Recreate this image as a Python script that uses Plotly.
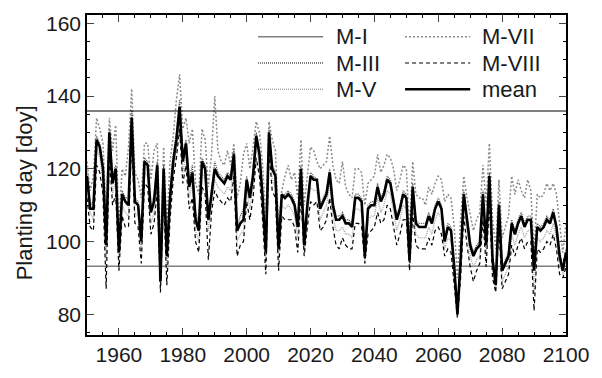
import plotly.graph_objects as go

years = list(range(1950, 2101))

mean_vals = [
    118,109,109,128,126,120,99,130,116,120,
    97,113,111,110,134,111,110,100,122,121,
    108,111,121,89,120,96,112,122,128,137,
    122,127,115,119,106,103,122,120,106,113,
    120,118,117,116,118,117,124,103,105,106,
    117,112,118,129,124,112,97,130,120,118,
    98,113,112,113,112,110,104,120,99,110,
    118,117,117,109,111,113,119,110,106,106,
    107,105,105,104,112,112,111,96,109,110,
    110,115,111,113,117,116,111,106,109,113,
    112,95,115,105,104,104,104,107,105,109,
    111,109,100,104,103,93,80,95,113,106,
    99,96,98,99,113,99,118,95,88,110,
    92,94,96,105,102,105,107,104,106,106,
    92,104,103,104,106,105,108,104,96,92,
    97]

m7_vals = [
    122,114,118,134,131,127,108,134,125,132,
    104,120,118,126,142,119,117,112,127,127,
    117,125,127,97,126,104,122,129,139,146,
    131,134,127,131,116,113,131,128,115,124,
    140,125,122,121,125,121,127,112,116,124,
    127,120,126,133,130,121,106,133,128,125,
    104,114,118,121,117,119,112,128,110,119,
    126,125,122,120,121,122,129,121,117,116,
    122,115,113,112,120,120,119,110,116,117,
    118,124,119,121,124,123,120,114,117,121,
    120,103,122,113,112,112,110,115,113,116,
    118,117,111,113,112,104,90,106,118,112,
    107,103,106,108,121,110,127,106,98,117,
    101,104,107,118,113,117,114,112,117,114,
    97,113,112,113,116,114,116,113,104,97,
    105]

m8_vals = [
    112,104,103,121,119,113,87,124,110,113,
    92,107,104,104,128,105,104,94,116,115,
    102,105,114,86,112,88,106,117,123,131,
    116,121,109,112,100,97,115,113,95,108,
    114,112,111,110,112,111,118,96,99,100,
    111,106,112,123,118,106,91,125,114,112,
    92,107,106,106,106,104,97,113,96,104,
    111,110,111,103,104,106,112,104,99,98,
    101,99,98,98,105,105,104,94,102,103,
    104,108,105,106,110,109,104,99,102,106,
    106,92,108,99,98,98,98,101,99,103,
    104,102,96,98,97,88,79,90,107,99,
    93,89,92,94,106,93,111,90,86,104,
    87,89,91,99,96,99,101,98,100,100,
    81,98,97,98,100,99,102,98,91,90,
    93]

m3_vals = [
    119,110,111,129,127,121,100,131,118,121,
    98,114,112,112,136,112,111,102,123,122,
    109,113,122,91,121,97,114,124,130,139,
    124,128,117,121,108,105,123,121,107,115,
    122,119,118,117,119,118,125,104,107,109,
    118,113,120,130,125,114,99,131,121,119,
    100,112,113,114,113,111,105,121,101,111,
    119,118,117,110,112,114,120,111,107,107,
    108,106,106,105,113,113,112,98,110,111,
    111,116,112,114,118,117,112,107,110,114,
    113,97,116,106,105,105,105,108,106,110,
    112,110,101,105,104,94,82,96,114,107,
    100,97,99,100,114,100,119,96,90,111,
    93,95,97,106,103,106,108,105,107,107,
    93,105,104,105,107,106,109,105,97,93,
    98]

m5_vals = [
    115,108,106,126,123,117,95,128,113,117,
    94,110,108,107,131,108,107,97,119,118,
    105,108,118,88,117,92,109,119,125,134,
    119,124,112,116,103,100,119,117,103,110,
    117,115,114,113,115,114,121,100,102,103,
    114,109,115,126,121,109,95,127,117,115,
    95,110,109,110,109,107,101,117,97,107,
    115,114,114,106,108,110,116,107,103,103,
    104,102,102,101,109,109,108,94,106,107,
    107,112,108,110,114,113,108,103,106,110,
    109,93,112,102,101,101,101,104,102,106,
    108,106,98,101,100,91,80,93,110,103,
    96,93,95,96,110,96,115,92,87,107,
    89,91,93,102,99,102,104,101,103,103,
    86,101,100,101,103,102,105,101,94,91,
    95]

m1_value = 93.2
upper_limit = 135.9

x_ticks = [1960, 1980, 2000, 2020, 2040, 2060, 2080, 2100]
y_ticks = [80, 100, 120, 140, 160]
y_title = "Planting day [doy]"

FONT = "Liberation Sans, Arial, sans-serif"

styles = {
    "M-I":    dict(color="#7f7f7f", width=1.3),
    "M-III":  dict(color="#555555", width=1.3, dash="1px,1px"),
    "M-V":    dict(color="#a5a5a5", width=1.3, dash="1px,1px"),
    "M-VII":  dict(color="#8a8a8a", width=1.5, dash="2px,2px"),
    "M-VIII": dict(color="#000000", width=1.2, dash="4px,3px"),
    "mean":   dict(color="#000000", width=2.6),
}

series = [
    ("M-I", [m1_value] * len(years)),
    ("M-VII", m7_vals),
    ("M-V", m5_vals),
    ("M-III", m3_vals),
    ("M-VIII", m8_vals),
    ("mean", mean_vals),
]

fig = go.Figure()
for name, vals in series:
    fig.add_trace(go.Scatter(x=years, y=vals, mode="lines", name=name,
                             line=styles[name], showlegend=False))

fig.add_hline(y=upper_limit, line=dict(color="#000000", width=1.2))

# legend drawn in two columns (paper coordinates)
legend_layout = [
    ("M-I", 0, 0), ("M-III", 0, 1), ("M-V", 0, 2),
    ("M-VII", 1, 0), ("M-VIII", 1, 1), ("mean", 1, 2),
]
col_line_x = [(0.357, 0.493), (0.664, 0.800)]
col_text_x = [0.516, 0.820]
row_y = [0.932, 0.850, 0.768]
for name, c, r in legend_layout:
    x0, x1 = col_line_x[c]
    fig.add_shape(type="line", xref="paper", yref="paper", x0=x0, x1=x1,
                  y0=row_y[r], y1=row_y[r], line=styles[name])
    fig.add_annotation(xref="paper", yref="paper", x=col_text_x[c], y=row_y[r],
                       text=name, showarrow=False, xanchor="left", yanchor="middle",
                       font=dict(family=FONT, size=22, color="#1a1a1a"))

# y-axis title
fig.add_annotation(xref="paper", yref="paper", x=-0.130, y=0.445, text=y_title,
                   textangle=-90, showarrow=False, xanchor="center", yanchor="middle",
                   font=dict(family=FONT, size=22, color="#1a1a1a"))

fig.update_layout(
    width=602, height=378,
    margin=dict(l=87, r=36, t=13, b=40),
    paper_bgcolor="white", plot_bgcolor="white",
    font=dict(family=FONT, size=20, color="#1a1a1a"),
    showlegend=False,
)

fig.update_xaxes(range=[1950, 2100], tickvals=x_ticks, ticks="inside", ticklen=7, tickwidth=1,
                 showline=True, linecolor="black", linewidth=1.5, mirror="ticks",
                 showgrid=False, zeroline=False,
                 minor=dict(dtick=5, tick0=1950, ticks="inside", ticklen=3, tickcolor="black", showgrid=False),
                 tickfont=dict(size=21))
fig.update_yaxes(range=[74.3, 162.3], tickvals=y_ticks, ticks="inside", ticklen=7, tickwidth=1,
                 showline=True, linecolor="black", linewidth=1.5, mirror="ticks",
                 showgrid=False, zeroline=False,
                 minor=dict(dtick=5, tick0=80, ticks="inside", ticklen=3, tickcolor="black", showgrid=False),
                 tickfont=dict(size=21))

fig.write_html("out.html")
